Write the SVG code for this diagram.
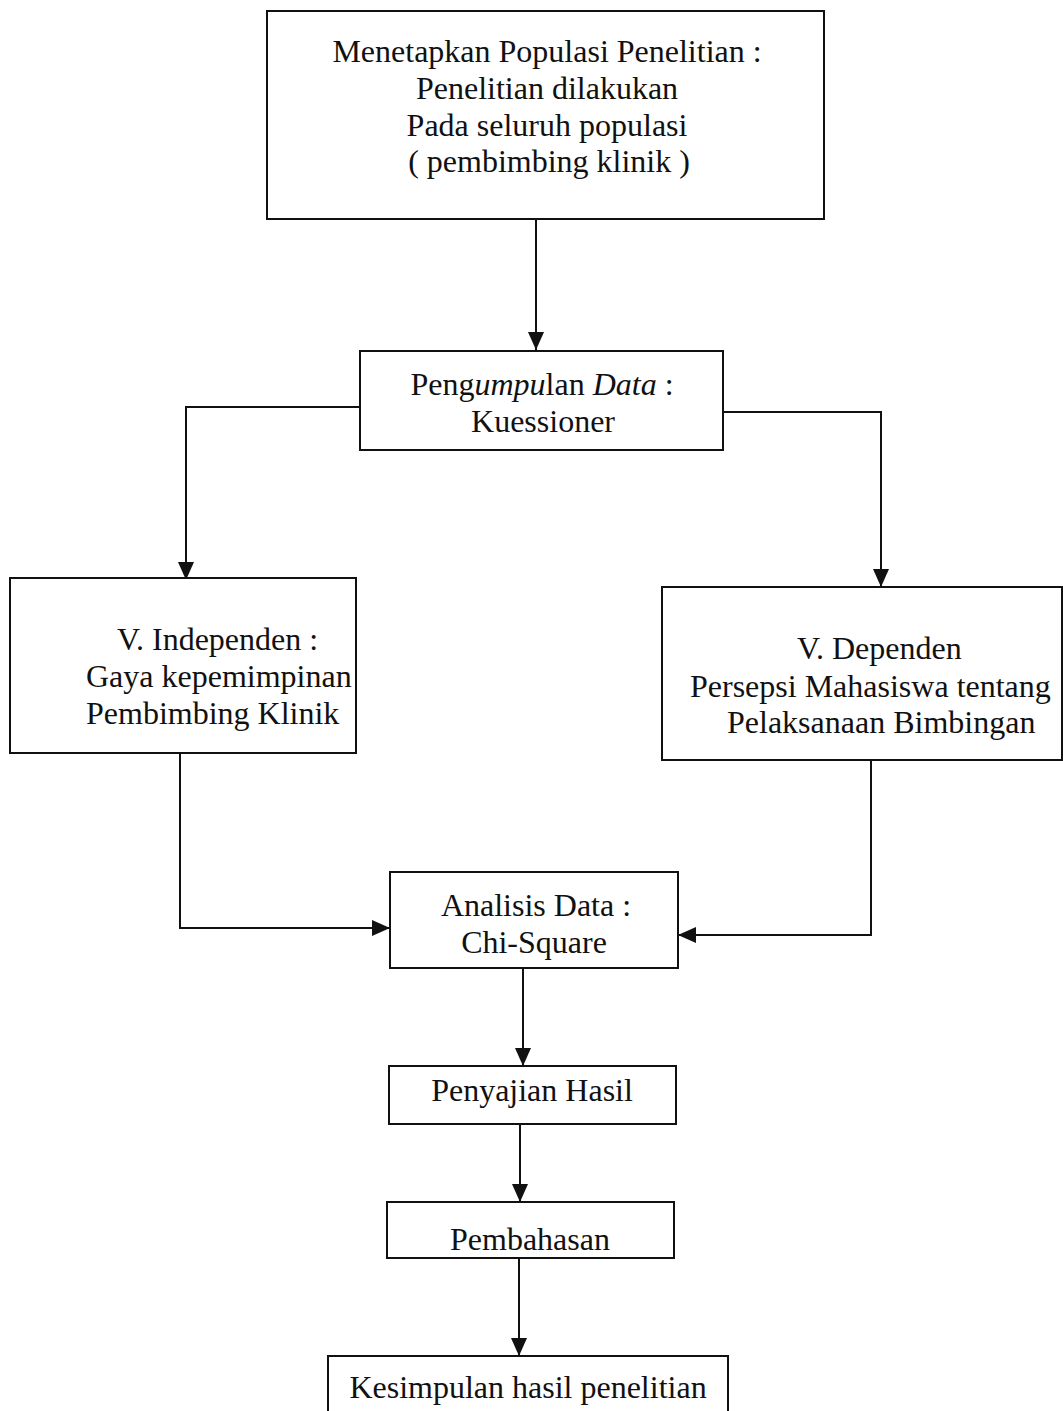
<svg xmlns="http://www.w3.org/2000/svg" width="1063" height="1411" viewBox="0 0 1063 1411">
<style>
.box{fill:#fff;stroke:#111;stroke-width:2}
.t{font-family:"Liberation Serif","Times New Roman",serif;font-size:32px;fill:#111}
.c{text-anchor:middle}
.conn{fill:none;stroke:#111;stroke-width:2}
</style>
<defs>
<marker id="ah" markerUnits="userSpaceOnUse" markerWidth="18" markerHeight="16" refX="18" refY="8" orient="auto" viewBox="0 0 18 16">
<path d="M0,0 L18,8 L0,16 z" fill="#111"/>
</marker>
</defs>
<rect width="1063" height="1411" fill="#fff"/>
<g id="connectors">
<path class="conn" d="M536,220 V350" marker-end="url(#ah)"/>
<path class="conn" d="M360,407 H186 V580" marker-end="url(#ah)"/>
<path class="conn" d="M723,412 H881 V587" marker-end="url(#ah)"/>
<path class="conn" d="M180,753 V928 H390" marker-end="url(#ah)"/>
<path class="conn" d="M871,760 V935 H678" marker-end="url(#ah)"/>
<path class="conn" d="M523,968 V1066" marker-end="url(#ah)"/>
<path class="conn" d="M520,1124 V1202" marker-end="url(#ah)"/>
<path class="conn" d="M519,1258 V1356" marker-end="url(#ah)"/>
</g>
<g id="populasi">
<rect class="box" x="267" y="11" width="557" height="208"/>
<text class="t c" x="547" y="62">Menetapkan Populasi Penelitian :</text>
<text class="t c" x="547" y="99">Penelitian dilakukan</text>
<text class="t c" x="547" y="136">Pada seluruh populasi</text>
<text class="t c" x="549" y="172">( pembimbing klinik )</text>
</g>
<g id="pengumpulan">
<rect class="box" x="360" y="351" width="363" height="99"/>
<text class="t c" x="542" y="395">Peng<tspan font-style="italic">umpu</tspan>lan <tspan font-style="italic">Data</tspan> :</text>
<text class="t c" x="543" y="432">Kuessioner</text>
</g>
<g id="independen">
<rect class="box" x="10" y="578" width="346" height="175"/>
<text class="t" x="117" y="650">V. Independen :</text>
<text class="t" x="86" y="687">Gaya kepemimpinan</text>
<text class="t" x="86" y="724">Pembimbing Klinik</text>
</g>
<g id="dependen">
<rect class="box" x="662" y="587" width="400" height="173"/>
<text class="t" x="797" y="659">V. Dependen</text>
<text class="t" x="690" y="697">Persepsi Mahasiswa tentang</text>
<text class="t" x="727" y="733">Pelaksanaan Bimbingan</text>
</g>
<g id="analisis">
<rect class="box" x="390" y="872" width="288" height="96"/>
<text class="t c" x="536" y="916">Analisis Data :</text>
<text class="t c" x="534" y="953">Chi-Square</text>
</g>
<g id="penyajian">
<rect class="box" x="389" y="1066" width="287" height="58"/>
<text class="t c" x="532" y="1101">Penyajian Hasil</text>
</g>
<g id="pembahasan">
<rect class="box" x="387" y="1202" width="287" height="56"/>
<text class="t c" x="530" y="1250">Pembahasan</text>
</g>
<g id="kesimpulan">
<rect class="box" x="328" y="1356" width="400" height="60"/>
<text class="t c" x="528" y="1398">Kesimpulan hasil penelitian</text>
</g>
</svg>
